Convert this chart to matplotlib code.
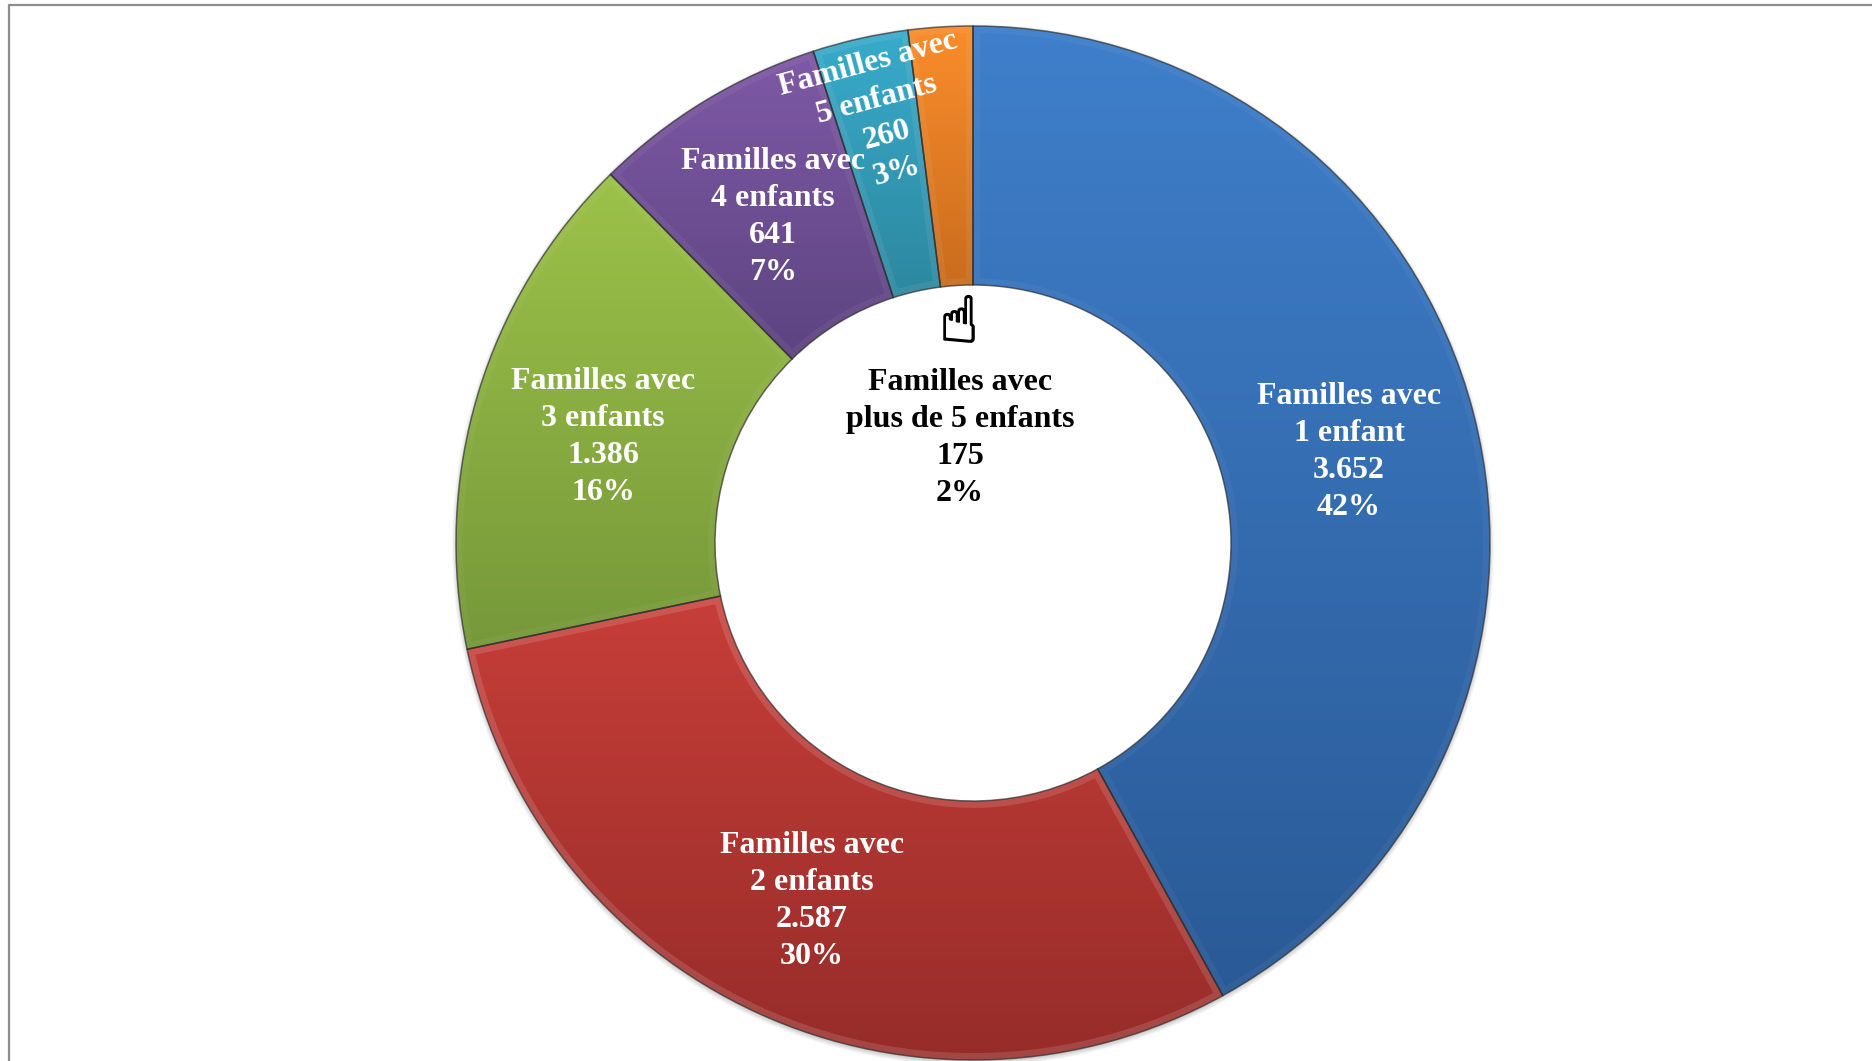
import numpy as np
import matplotlib
matplotlib.use('Agg')
import matplotlib.pyplot as plt
import matplotlib.patheffects as pe
from matplotlib.colors import LinearSegmentedColormap
from matplotlib.lines import Line2D
from matplotlib.patches import PathPatch

# Data
categories = ['Familles avec\n1 enfant', 'Familles avec\n2 enfants', 'Familles avec\n3 enfants',
              'Familles avec\n4 enfants', 'Familles avec\n5 enfants', 'Familles avec\nplus de 5 enfants']
values = [3652, 2587, 1386, 641, 260, 175]
value_labels = ['3.652', '2.587', '1.386', '641', '260', '175']
percents = ['42%', '30%', '16%', '7%', '3%', '2%']

top_colors = ['#3F7FCB', '#C73E39', '#9DC249', '#7F59A6', '#38ABCB', '#FA8D2B']
bottom_colors = ['#2A5A96', '#962C29', '#76983A', '#5C4480', '#2D879F', '#C96C1E']
bevel_alpha = [0.04, 0.13, 0.04, 0.05, 0.07, 0.06]

# label centres in pixels of the 1872x1061 image, rotation, colour
label_pos = [(1349, 452), (812, 901), (603, 437), (773, 217), (882, 118), (960, 438)]
label_rot = [0, 0, 0, 0, 15, 0]
label_col = ['white', 'white', 'white', 'white', 'white', 'black']

W, H = 1872, 1061
cx, cy, radius = 973, H - 543, 517
hole = 258

fig = plt.figure(figsize=(W / 100, H / 100), dpi=100)
ax = fig.add_axes([0, 0, 1, 1])

# soft shadow under the ring
for i in range(5):
    ax.add_patch(plt.Circle((cx, cy - 2), radius + 4 - i, color='black', alpha=0.035, lw=0, zorder=0.5))
ax.add_patch(plt.Circle((cx, cy), hole, color='white', lw=0, zorder=0.6))

wedges, _ = ax.pie(values, startangle=90, counterclock=False, center=(cx, cy), radius=radius,
                   wedgeprops=dict(width=radius - hole, edgecolor='#2B2B2BAA', linewidth=1.1), frame=False)

ax.set_xlim(0, W)
ax.set_ylim(0, H)
ax.set_aspect('equal')
ax.axis('off')

# vertical gradient and light bevel inside every wedge
for w, c1, c2, a in zip(wedges, top_colors, bottom_colors, bevel_alpha):
    bb = w.get_path().get_extents(w.get_patch_transform())
    cmap = LinearSegmentedColormap.from_list('g', [c1, c2])
    im = ax.imshow(np.linspace(0, 1, 256).reshape(-1, 1), cmap=cmap, aspect='auto', origin='upper',
                   extent=[bb.x0, bb.x1, bb.y0, bb.y1], zorder=1.5)
    im.set_clip_path(w.get_path(), w.get_transform())
    bevel = PathPatch(w.get_path(), transform=w.get_transform(), fc='none', ec=(1, 1, 1, a), lw=10, zorder=1.8)
    ax.add_patch(bevel)
    bevel.set_clip_path(w.get_path(), w.get_transform())
    w.set_zorder(2)
    w.set_facecolor('none')

ax.set_xlim(0, W)
ax.set_ylim(0, H)

# labels
for cat, val, pct, pos, rot, col in zip(categories, value_labels, percents, label_pos, label_rot, label_col):
    ax.text(pos[0], H - pos[1], f'{cat}\n{val}\n{pct}', ha='center', va='center', rotation=rot,
            rotation_mode='anchor', color=col, fontsize=23, fontweight='bold', family='Liberation Serif',
            linespacing=1.375, zorder=5)

# pointing hand above the small slice label
ax.text(959, H - 324, '\u261d', ha='center', va='center', fontsize=46, color='black',
        family='DejaVu Sans', zorder=5, path_effects=[pe.withStroke(linewidth=1.3, foreground='black')])

# grey frame of the page
fig.add_artist(Line2D([8.5 / W, 8.5 / W, 1], [0, 1 - 4.5 / H, 1 - 4.5 / H], color='#8C8C8C', lw=1.6))

fig.savefig('out.png', dpi=100)
